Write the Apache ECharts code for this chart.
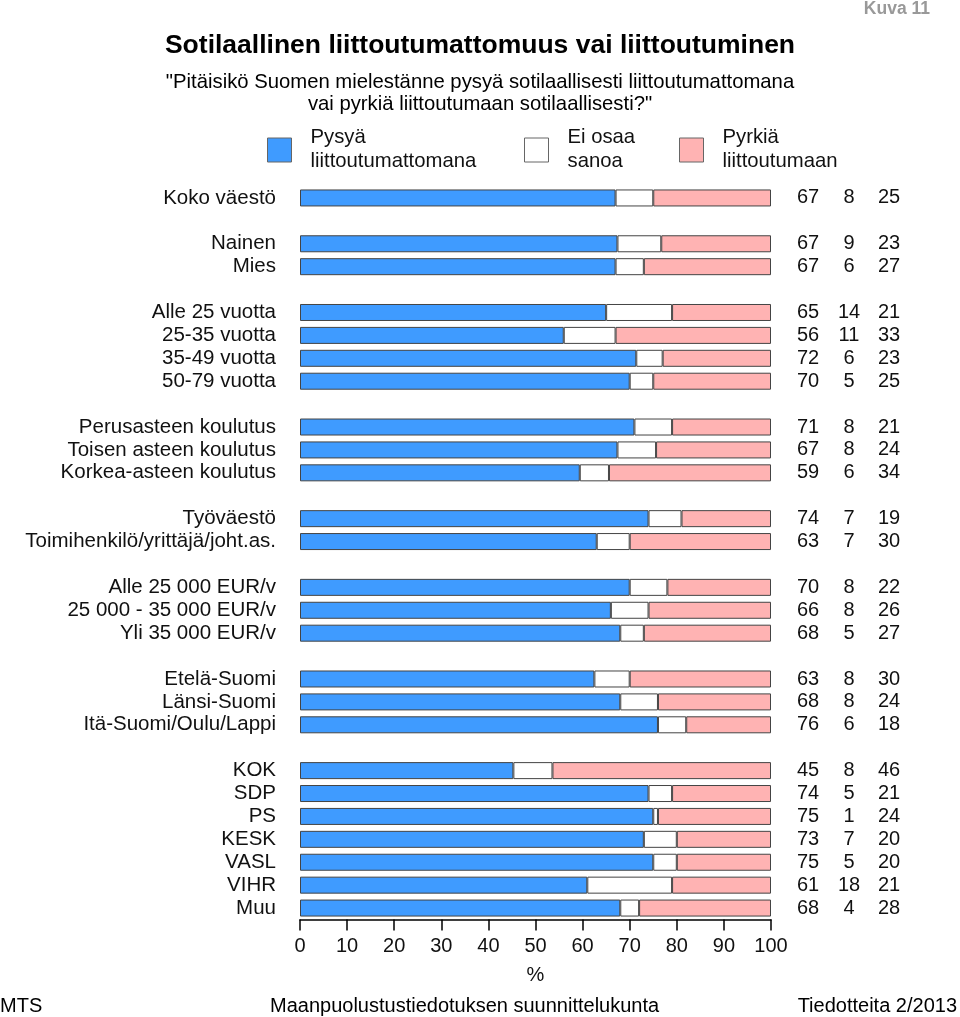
<!DOCTYPE html>
<html>
<head>
<meta charset="utf-8">
<script src="https://cdn.jsdelivr.net/npm/echarts@6/dist/echarts.min.js"></script>
<style>
html,body{margin:0;padding:0;background:#fff;}
#chart{width:960px;height:1017px;}
</style>
</head>
<body>
<div id="chart"></div>
<script>
const categories = ['Koko väestö', '', 'Nainen', 'Mies', '', 'Alle 25 vuotta', '25-35 vuotta', '35-49 vuotta', '50-79 vuotta', '',
  'Perusasteen koulutus', 'Toisen asteen koulutus', 'Korkea-asteen koulutus', '', 'Työväestö', 'Toimihenkilö/yrittäjä/joht.as.', '',
  'Alle 25 000 EUR/v', '25 000 - 35 000 EUR/v', 'Yli 35 000 EUR/v', '', 'Etelä-Suomi', 'Länsi-Suomi', 'Itä-Suomi/Oulu/Lappi', '',
  'KOK', 'SDP', 'PS', 'KESK', 'VASL', 'VIHR', 'Muu'];

// bar lengths (%)
const barStay = [67.0, null, 67.4, 67.0, null, 65.0, 56.0, 71.4, 70.0, null, 71.0, 67.4, 59.4, null, 74.0, 63.0, null,
  70.0, 66.0, 68.0, null, 62.5, 68.0, 76.0, null, 45.3, 74.0, 75.0, 73.0, 75.0, 61.0, 68.0];
const barDontKnow = [8.0, null, 9.3, 6.0, null, 14.0, 11.0, 5.6, 5.0, null, 8.0, 8.2, 6.2, null, 7.0, 7.0, null,
  8.0, 8.0, 5.0, null, 7.5, 8.0, 6.0, null, 8.3, 5.0, 1.0, 7.0, 5.0, 18.0, 4.0];
const barJoin = [25.0, null, 23.3, 27.0, null, 21.0, 33.0, 23.0, 25.0, null, 21.0, 24.4, 34.4, null, 19.0, 30.0, null,
  22.0, 26.0, 27.0, null, 30.0, 24.0, 18.0, null, 46.4, 21.0, 24.0, 20.0, 20.0, 21.0, 28.0];

// printed (rounded) values in the right-hand columns
const labelStay = [67, null, 67, 67, null, 65, 56, 72, 70, null, 71, 67, 59, null, 74, 63, null,
  70, 66, 68, null, 63, 68, 76, null, 45, 74, 75, 73, 75, 61, 68];
const labelDontKnow = [8, null, 9, 6, null, 14, 11, 6, 5, null, 8, 8, 6, null, 7, 7, null,
  8, 8, 5, null, 8, 8, 6, null, 8, 5, 1, 7, 5, 18, 4];
const labelJoin = [25, null, 23, 27, null, 21, 33, 23, 25, null, 21, 24, 34, null, 19, 30, null,
  22, 26, 27, null, 30, 24, 18, null, 46, 21, 24, 20, 20, 21, 28];

const seriesNames = ['Pysyä\nliittoutumattomana', 'Ei osaa\nsanoa', 'Pyrkiä\nliittoutumaan'];
const seriesColors = ['#3f9bff', '#ffffff', '#ffb3b3'];

const FONT = "'Liberation Sans', Arial, sans-serif";
const FS = 20;
const TXT = '#111';

const chart = echarts.init(document.getElementById('chart'), null, {renderer: 'canvas'});

function legendItem(x, color, text) {
  return {
    type: 'group', left: x, top: 125,
    children: [
      {type: 'rect', shape: {x: 0, y: 13, width: 24, height: 24},
       style: {fill: color, stroke: '#666', lineWidth: 1}},
      {type: 'text', x: 43, y: 0,
       style: {text: text, fill: TXT, font: '20.3px ' + FONT, lineHeight: 24}}
    ]
  };
}

const option = {
  backgroundColor: '#fff',
  animation: false,
  textStyle: {fontFamily: FONT},
  title: [
    {text: 'Sotilaallinen liittoutumattomuus vai liittoutuminen', left: 'center', top: 32, padding: 0,
     textStyle: {fontSize: 26.5, fontWeight: 'bold', color: '#000', fontFamily: FONT}},
    {text: '"Pitäisikö Suomen mielestänne pysyä sotilaallisesti liittoutumattomana\nvai pyrkiä liittoutumaan sotilaallisesti?"',
     left: 'center', top: 71, padding: 0,
     textStyle: {fontSize: 20.3, fontWeight: 'normal', color: '#000', lineHeight: 22, fontFamily: FONT, align: 'center'}},
    {text: 'Kuva 11', right: 30, top: 0, padding: 0,
     textStyle: {fontSize: 17.5, fontWeight: 'bold', color: '#999', fontFamily: FONT}},
    {text: 'MTS', left: 0, top: 996, padding: 0,
     textStyle: {fontSize: FS, fontWeight: 'normal', color: '#000', fontFamily: FONT}},
    {text: 'Maanpuolustustiedotuksen suunnittelukunta', left: 270, top: 996, padding: 0,
     textStyle: {fontSize: FS, fontWeight: 'normal', color: '#000', fontFamily: FONT}},
    {text: 'Tiedotteita 2/2013', right: 3, top: 996, padding: 0,
     textStyle: {fontSize: FS, fontWeight: 'normal', color: '#000', fontFamily: FONT}}
  ],
  graphic: [
    legendItem(267, seriesColors[0], 'Pysyä\nliittoutumattomana'),
    legendItem(524, seriesColors[1], 'Ei osaa\nsanoa'),
    legendItem(679, seriesColors[2], 'Pyrkiä\nliittoutumaan')
  ],
  grid: {left: 300, right: 189, top: 186.5, bottom: 97.5, containLabel: false},
  xAxis: {
    type: 'value', min: 0, max: 100, interval: 10,
    name: '%', nameLocation: 'middle', nameGap: 46,
    nameTextStyle: {fontSize: FS, color: TXT, fontFamily: FONT},
    axisLine: {show: true, lineStyle: {color: '#000', width: 1.5}},
    axisTick: {show: true, length: 11, lineStyle: {color: '#000', width: 1.5}},
    axisLabel: {fontSize: FS, color: TXT, margin: 17, fontFamily: FONT},
    splitLine: {show: false}
  },
  yAxis: [
    {
      type: 'category', data: categories, inverse: true,
      axisLine: {show: false}, axisTick: {show: false},
      axisLabel: {interval: 0, fontSize: 20.5, color: TXT, margin: 24, fontFamily: FONT}
    },
    {
      type: 'category', data: categories, inverse: true, position: 'right',
      axisLine: {show: false}, axisTick: {show: false},
      axisLabel: {
        interval: 0,
        margin: 26,
        formatter: function (v, i) {
          if (labelStay[i] == null) return '';
          return '{a|' + labelStay[i] + '}{b|' + labelDontKnow[i] + '}{c|' + labelJoin[i] + '}';
        },
        rich: {
          a: {width: 22, align: 'center', fontSize: FS, color: TXT, fontFamily: FONT},
          b: {width: 60, align: 'center', fontSize: FS, color: TXT, fontFamily: FONT},
          c: {width: 20, align: 'center', fontSize: FS, color: TXT, fontFamily: FONT}
        }
      }
    }
  ],
  series: [barStay, barDontKnow, barJoin].map(function (d, k) {
    return {
      name: seriesNames[k], type: 'bar', stack: 'total', data: d,
      barWidth: 17,
      itemStyle: {color: seriesColors[k], borderColor: '#444', borderWidth: 1},
      emphasis: {disabled: true}
    };
  })
};
chart.setOption(option);
</script>
</body>
</html>
